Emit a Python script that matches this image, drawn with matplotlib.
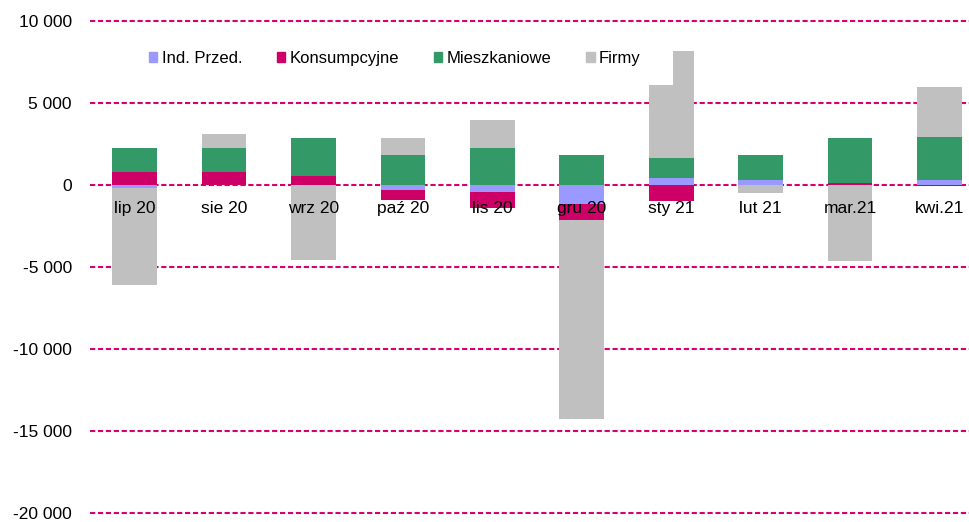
import matplotlib.pyplot as plt
import numpy as np
from matplotlib.patches import Patch
from matplotlib.ticker import FuncFormatter

plt.rcParams["font.family"] = ["Liberation Sans", "DejaVu Sans"]

categories = ["lip 20", "sie 20", "wrz 20", "paź 20", "lis 20",
              "gru 20", "sty 21", "lut 21", "mar.21", "kwi.21"]
series_names = ["Ind. Przed.", "Konsumpcyjne", "Mieszkaniowe", "Firmy"]
ind_przed = [-210, 0, 0, -335, -455, -1170, 410, 275, 0, 275]
konsumpcyjne = [760, 760, 520, -610, -960, -950, -1000, -30, 100, -50]
mieszkaniowe = [1465, 1465, 2315, 1840, 2225, 1840, 1200, 1565, 2730, 2665]
firmy = [-5925, 850, -4560, 995, 1705, -12170, 4470, -440, -4660, 3045]
# odstający fragment słupka "sty 21" (węższy kawałek nad słupkiem Firmy)
firmy_sty_extra = 2050
yticks = [10000, 5000, 0, -5000, -10000, -15000, -20000]

colors = ["#9999FF", "#CC0066", "#339966", "#C0C0C0"]
grid_color = "#D6006E"
fs = 12.5

fig = plt.figure(figsize=(9.7, 5.22), dpi=100)
ax = fig.add_axes([90 / 970, 1 - 513 / 522, 1 - 90 / 970, (513 - 20.7) / 522])

x = np.arange(len(categories))
width = 0.5
pos_bottom = np.zeros(len(categories))
neg_bottom = np.zeros(len(categories))
for vals, color in zip([ind_przed, konsumpcyjne, mieszkaniowe, firmy], colors):
    v = np.array(vals, dtype=float)
    pos = np.where(v > 0, v, 0)
    neg = np.where(v < 0, v, 0)
    ax.bar(x, pos, width, bottom=pos_bottom, color=color, zorder=2)
    ax.bar(x, neg, width, bottom=neg_bottom, color=color, zorder=2)
    pos_bottom += pos
    neg_bottom += neg

i_sty = categories.index("sty 21")
ax.bar(x[i_sty] + width * 0.275, firmy_sty_extra, width * 0.45,
       bottom=pos_bottom[i_sty], color=colors[3], zorder=2)

for y in yticks:
    ax.axhline(y, color=grid_color, lw=1.5, ls=(0, (2.5, 1.3)), zorder=1,
               clip_on=False)

ax.set_xlim(-0.5, -0.5 + (970 - 89.25) / 89.5)
ax.set_ylim(-20000, 10000)
ax.set_yticks(yticks)
ax.yaxis.set_major_formatter(FuncFormatter(lambda v, _: f"{v:,.0f}".replace(",", " ")))
ax.tick_params(axis="y", length=0, pad=13, labelsize=fs)
ax.set_xticks([])
for s in ax.spines.values():
    s.set_visible(False)

for xi, lab in zip(x, categories):
    ax.annotate(lab, xy=(xi, 0), xytext=(0, -20.5), textcoords="offset points",
                ha="center", va="baseline", fontsize=fs, zorder=5)

handles = [Patch(color=c) for c in colors]
fig.legend(handles, series_names, loc="center left",
           bbox_to_anchor=(149 / 970, 1 - 58.5 / 522), ncol=4, frameon=False,
           fontsize=12, handlelength=0.5, handleheight=0.5,
           handletextpad=0.25, columnspacing=2.1, borderpad=0, borderaxespad=0)

fig.savefig("out.png", dpi=100)
